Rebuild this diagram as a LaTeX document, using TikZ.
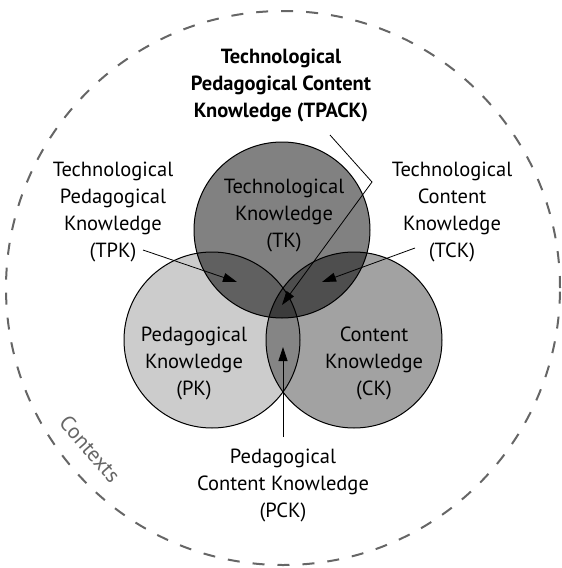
\documentclass[tikz,border=0pt]{standalone}
\usepackage{fontspec}
\setmainfont{PT Sans}
\usetikzlibrary{arrows.meta}

\definecolor{pkgray}{HTML}{CCCCCC}
\definecolor{ckgray}{HTML}{A2A2A2}
\definecolor{tkgray}{HTML}{818181}
\definecolor{pckgray}{HTML}{858585}
\definecolor{tpkgray}{HTML}{606060}
\definecolor{tckgray}{HTML}{4E4E4E}
\definecolor{tpackgray}{HTML}{3C3C3C}
\definecolor{ctxgray}{HTML}{666666}

\begin{document}
\begin{tikzpicture}[
  x=1pt, y=-1pt,
  font=\fontsize{20.5}{27}\selectfont, >={Triangle[length=14pt,width=9pt]},
  lbl/.style={align=center, inner sep=0pt},
  arr/.style={->, draw=black, line width=0.8pt},
  ring/.style={draw=black, line width=1pt},
  ctx/.style={draw=ctxgray, line width=2pt, dash pattern=on 12pt off 13pt},
]
\useasboundingbox (0,0) rectangle (562,568);

%% ====================================================
%% Contexts: outer dashed ring
%% ====================================================
\coordinate (mid) at (283,288);
\draw[ctx] (mid) circle (277pt);
\node[lbl, text=ctxgray, rotate=-49, font=\fontsize{21.5}{27}\selectfont]
  (ctxlbl) at (90,449) {Contexts};

%% ====================================================
%% Three knowledge circles
%% ====================================================
\coordinate (tk) at (282,230);
\coordinate (pk) at (212,340);
\coordinate (ck) at (354,340);

\fill[pkgray] (pk) circle (88pt);
\fill[ckgray] (ck) circle (88pt);
\fill[tkgray] (tk) circle (88pt);

%% Overlaps
\begin{scope}
  \clip (pk) circle (88pt);
  \fill[pckgray] (ck) circle (88pt);
  \fill[tpkgray] (tk) circle (88pt);
\end{scope}
\begin{scope}
  \clip (ck) circle (88pt);
  \fill[tckgray] (tk) circle (88pt);
\end{scope}
\begin{scope}
  \clip (pk) circle (88pt);
  \clip (ck) circle (88pt);
  \fill[tpackgray] (tk) circle (88pt);
\end{scope}

\draw[ring] (pk) circle (88pt);
\draw[ring] (ck) circle (88pt);
\draw[ring] (tk) circle (88pt);

%% Circle labels
\node[lbl] (tklbl) at (284,215) {Technological\\Knowledge\\(TK)};
\node[lbl] (pklbl) at (194,363) {Pedagogical\\Knowledge\\(PK)};
\node[lbl] (cklbl) at (374,363) {Content\\Knowledge\\(CK)};

%% ====================================================
%% Outside labels and pointers
%% ====================================================
\node[lbl, font=\fontsize{20.5}{27}\selectfont\bfseries] (tpack) at (281,85)
  {Technological\\Pedagogical Content\\Knowledge (TPACK)};
\node[lbl] (tpk) at (113,212) {Technological\\Pedagogical\\Knowledge\\(TPK)};
\node[lbl] (tck) at (452,212) {Technological\\Content\\Knowledge\\(TCK)};
\node[lbl] (pck) at (283,485) {Pedagogical\\Content Knowledge\\(PCK)};

\coordinate (tpack-tail) at (330,135);
\coordinate (tpack-bend) at (372,182);
\coordinate (tpack-tip)  at (282,305);
\coordinate (tpk-tail) at (143,250);
\coordinate (tpk-tip)  at (237,282);
\coordinate (tck-tail) at (415,248);
\coordinate (tck-tip)  at (322,282);
\coordinate (pck-tail) at (283,437);
\coordinate (pck-tip)  at (283,347);

\draw[arr] (tpack-tail) -- (tpack-bend) -- (tpack-tip);
\draw[arr] (tpk-tail) -- (tpk-tip);
\draw[arr] (tck-tail) -- (tck-tip);
\draw[arr] (pck-tail) -- (pck-tip);

\end{tikzpicture}
\end{document}
